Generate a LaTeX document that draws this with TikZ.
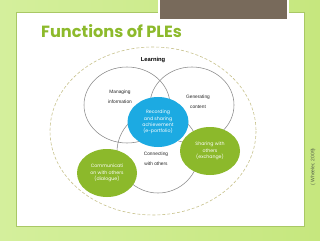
\documentclass[tikz,border=0pt]{standalone}
\usepackage{fontspec}
\setmainfont{Liberation Sans}
\newfontfamily\popfont{Poppins}
\usetikzlibrary{shapes.geometric}
\definecolor{bggreen}{HTML}{C6E77E}
\definecolor{bglight}{HTML}{D4EF9C}
\definecolor{panelline}{HTML}{A9C865}
\definecolor{boxbrown}{HTML}{786A5B}
\definecolor{titlegreen}{HTML}{8DBA2C}
\definecolor{blobgreen}{HTML}{8CB92B}
\definecolor{blobblue}{HTML}{1CAAE2}
\definecolor{dashcol}{HTML}{C8C28C}
\definecolor{ringgray}{HTML}{8A8A8A}
\definecolor{citecol}{HTML}{55604A}
\tikzset{
  ring/.style={draw=ringgray, line width=0.55pt, ellipse, inner sep=0pt},
  blob/.style={ellipse, inner sep=0pt, text=white, align=center,
    font=\popfont\fontsize{4.7}{6.3}\selectfont},
  lbl/.style={align=center, font=\fontsize{4.8}{10}\selectfont, text=black!85},
}
\begin{document}
\begin{tikzpicture}[x=1pt,y=-1pt]
\useasboundingbox (0,0) rectangle (320,240);
\shade[left color=bglight, right color=bggreen] (0,0) rectangle (320,240);
\fill[white, draw=panelline, line width=0.6pt] (16,12) rectangle (304,226);
\fill[white] (158,-1) rectangle (289,21);
\fill[boxbrown] (160,-1) rectangle (287,19);
\node[anchor=base west, inner sep=0pt, text=titlegreen,
  font=\popfont\bfseries\fontsize{16.2}{17}\selectfont] (title) at (41,38) {Functions of PLEs};
\draw[dashcol, line width=0.6pt, dash pattern=on 3pt off 2pt] (153,131) ellipse [x radius=103, y radius=84];
\node[ring, minimum width=86, minimum height=76] (manage) at (127,105) {};
\node[ring, minimum width=84, minimum height=76] (gen) at (192,105) {};
\node[ring, minimum width=82, minimum height=82] (conn) at (158,152) {};
\node[font=\bfseries\fontsize{5.8}{6}\selectfont, inner sep=0pt] (learn) at (153,60) {Learning};
\node[lbl] (mtext) at (120,97) {Managing\\information};
\node[lbl] (gtext) at (198,102) {Generating\\content};
\node[lbl] (ctext) at (156,159) {Connecting\\with others};
\node[blob, fill=blobblue, minimum width=61, minimum height=50] (rec) at (158,122)
  {Recording\\and sharing\\achievement\\(e-portfolio)};
\node[blob, fill=blobgreen, minimum width=60, minimum height=48] (share) at (210,151)
  {Sharing with\\others\\(exchange)};
\node[blob, fill=blobgreen, minimum width=60, minimum height=48] (comm) at (107,173)
  {Communicati\\on with others\\(dialogue)};
\node[rotate=90, text=citecol, font=\fontsize{5}{6}\selectfont, inner sep=0pt] (cite) at (313,167) {( Wheeler, 2009)};
\end{tikzpicture}
\end{document}
